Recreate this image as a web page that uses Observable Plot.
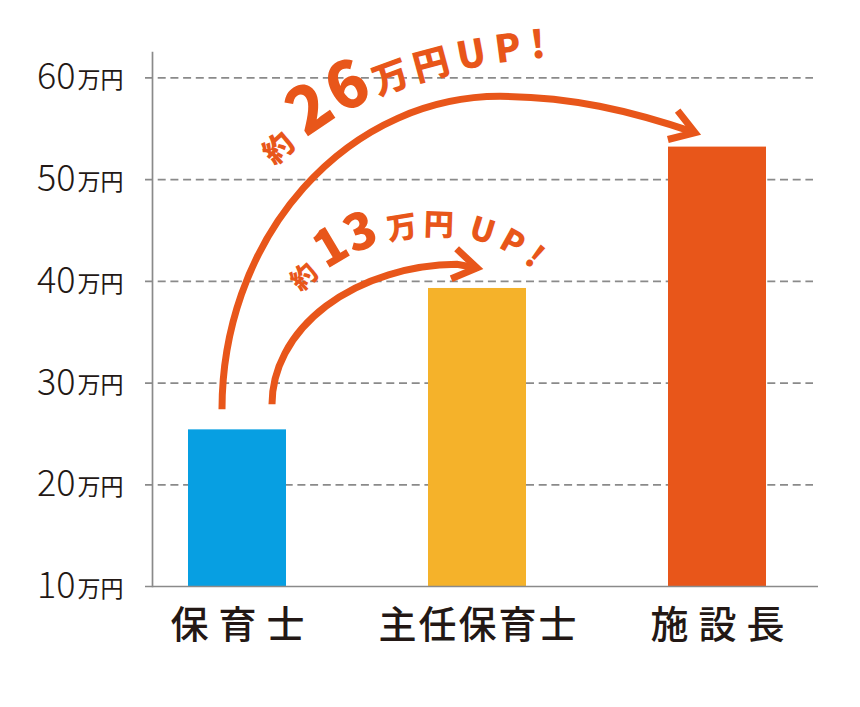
<!DOCTYPE html>
<html><head><meta charset="utf-8">
<script src="https://cdn.jsdelivr.net/npm/d3@7"></script>
<script src="https://cdn.jsdelivr.net/npm/@observablehq/plot@0.6"></script>
<style>
body{margin:0;background:#fff;}
svg{overflow:visible}
</style>
</head><body><div id="chart"></div>
<script>
// ---- data ----
const categories = ["保育士", "主任保育士", "施設長"];
const salaries = [25.4, 39.3, 53.2];
const barColors = ["#079fe2", "#f5b22a", "#e8561a"];
const yTicks = [10, 20, 30, 40, 50, 60];
const gridTicks = [20, 30, 40, 50, 60];
const unitLabel = "万円";
const bigNote = ["約", "26", "万円", "UP!"];
const smallNote = ["約", "13", "万円", "UP!"];

const data = categories.map((c, i) => ({category: c, salary: salaries[i]}));
const base = yTicks[0];
const grey = "#8a8a8a";
const orange = "#e8561a";
const ink = "#231815";
const jp = "'Noto Sans CJK JP', 'Noto Sans', sans-serif";

const chart = Plot.plot({
  width: 860, height: 707,
  marginLeft: 152, marginRight: 42, marginTop: 52, marginBottom: 121,
  style: {fontFamily: jp, background: "#fff", color: ink, overflow: "visible"},
  x: {domain: categories, paddingInner: 0.592, paddingOuter: 0.183, align: 0.41, axis: null},
  y: {domain: [10, 62.5], axis: null},
  color: {domain: categories, range: barColors},
  marks: [
    Plot.ruleY(gridTicks, {y: d => d, stroke: grey, strokeWidth: 1.7, strokeDasharray: "8,4.7", insetLeft: -7, insetRight: 5}),
    Plot.barY(data, {x: "category", y1: base, y2: "salary", fill: "category"}),
    Plot.frame({anchor: "left", stroke: grey, strokeWidth: 1.7}),
    Plot.ruleY([base], {stroke: grey, strokeWidth: 1.7, insetLeft: -7}),
    Plot.text(yTicks, {y: d => d, text: d => String(d), frameAnchor: "left", textAnchor: "end", dx: -77, fontSize: 36, fontWeight: 300, fill: ink, lineAnchor: "middle"}),
    Plot.text(yTicks, {y: d => d, text: () => unitLabel, frameAnchor: "left", textAnchor: "end", dx: -29, dy: 3, fontSize: 23, fill: ink, lineAnchor: "middle"}),
    Plot.text(categories, {x: d => d, text: d => d, frameAnchor: "bottom", dy: 39, fontSize: 38, fontWeight: 500, fill: ink, lineAnchor: "middle"})
  ]
});
document.getElementById("chart").appendChild(chart);

// letter spacing for category labels
d3.select(chart).selectAll("text").each(function() {
  const t = this.textContent;
  if (!categories.includes(t)) return;
  const ls = t.length <= 3 ? 10 : 2;
  this.setAttribute("letter-spacing", ls);
  this.style.letterSpacing = ls + "px";
  this.setAttribute("dx", ls / 2);
});

// ---- annotations through the plot's scales ----
const xs = chart.scale("x"), ys = chart.scale("y");
const cx = c => xs.apply(c) + xs.bandwidth / 2;
const cy = v => ys.apply(v);
const svg = d3.select(chart);
const g = svg.append("g").attr("class", "annotations").attr("text-anchor", "start");

function arrowHead(tip, ang, L, phi) {
  const back = ang + Math.PI;
  const w1 = [tip[0] + L * Math.cos(back + phi), tip[1] + L * Math.sin(back + phi)];
  const w2 = [tip[0] + L * Math.cos(back - phi), tip[1] + L * Math.sin(back - phi)];
  return `M${w1}L${tip}L${w2}`;
}

function drawArrow(d, from, tip) {
  g.append("path").attr("d", d)
    .attr("fill", "none").attr("stroke", orange).attr("stroke-width", 7);
  const ang = Math.atan2(tip[1] - from[1], tip[0] - from[0]);
  g.append("path").attr("d", arrowHead(tip, ang, 28, 33 * Math.PI / 180))
    .attr("fill", "none").attr("stroke", orange).attr("stroke-width", 7)
    .attr("stroke-linejoin", "miter").attr("stroke-miterlimit", 10);
}

// big arrow: 保育士 -> 施設長
const A = [cx(categories[0]) - 15, cy(salaries[0]) - 20];
const B = [cx(categories[2]) - 22, cy(salaries[2]) - 14];
const Atop = [A[0] + 278, A[1] - 313];
const Bc2 = [B[0] - 65, B[1] - 22];
drawArrow(`M${A}A278,313 0 0 1 ${Atop}C${[B[0] - 125, Atop[1]]} ${Bc2} ${B}`, Bc2, B);

// small arrow: 保育士 -> 主任保育士
const S = [cx(categories[0]) + 35, cy(salaries[0]) - 25];
const T = [cx(categories[1]), cy(salaries[1]) - 20];
const Stop = [S[0] + 185, S[1] - 140];
drawArrow(`M${S}A188,140 0 0 1 ${Stop}L${T}`, Stop, T);

const defs = svg.append("defs");
defs.append("path").attr("id", "bigTextPath")
  .attr("d", `M${[A[0] + 46, A[1] - 236]}C${[A[0] + 98, A[1] - 292]} ${[A[0] + 178, A[1] - 341]} ${[A[0] + 338, A[1] - 353]}`);
defs.append("path").attr("id", "smallTextPath")
  .attr("d", `M${[S[0] + 16, S[1] - 93]}C${[S[0] + 58, S[1] - 166]} ${[S[0] + 198, S[1] - 207]} ${[S[0] + 276, S[1] - 120]}`);

function noteText(id, parts, sizes, gaps, spacings, offset) {
  const tp = g.append("text").attr("fill", orange).attr("font-family", jp).attr("font-weight", 900)
    .attr("text-anchor", "start")
    .append("textPath").attr("href", "#" + id).attr("startOffset", offset);
  parts.forEach((p, i) => {
    tp.append("tspan").attr("font-size", sizes[i]).attr("dx", gaps[i])
      .style("letter-spacing", spacings[i] + "px").text(p);
  });
}
noteText("bigTextPath", bigNote, [30, 64, 36, 38], [0, 12, 2, 3], [0, 2, 5, 9], 10);
noteText("smallTextPath", smallNote, [26, 50, 30, 32], [0, 8, 8, 9], [0, 0, 5, 7], 23);
</script>
</body></html>
